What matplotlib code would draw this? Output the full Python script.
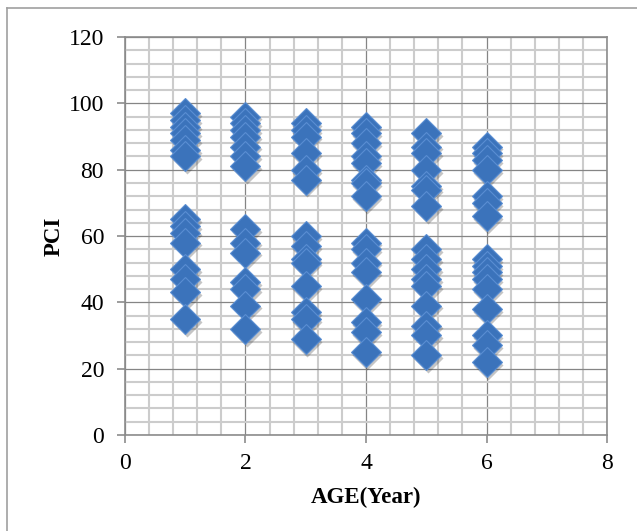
import numpy as np
import matplotlib.pyplot as plt
from matplotlib.ticker import MultipleLocator
from matplotlib.transforms import offset_copy
from matplotlib.lines import Line2D

# PCI readings per pavement age (years)
pci_age1 = [97, 95, 93, 91, 89, 86, 84, 65, 63, 61, 58, 50, 47, 43, 35]
pci_age2 = [96, 94, 92, 90, 87, 84, 81, 62, 58, 55, 46, 44, 39, 32]
pci_age3 = [94, 92, 90, 85, 80, 77, 60, 57, 53, 52, 45, 37, 35, 29]
pci_age4 = [93, 91, 88, 84, 82, 77, 76, 72, 58, 56, 52, 49, 41, 34, 31, 25]
pci_age5 = [91, 87, 85, 80, 75, 74, 69, 56, 53, 50, 47, 45, 39, 33, 30, 24]
pci_age6 = [87, 85, 83, 80, 72, 70, 66, 53, 51, 49, 47, 44, 38, 30, 27, 22]
ages = [1, 2, 3, 4, 5, 6]

series = [pci_age1, pci_age2, pci_age3, pci_age4, pci_age5, pci_age6]
x = np.concatenate([[a] * len(s) for a, s in zip(ages, series)])
y = np.concatenate(series)

plt.rcParams['font.family'] = 'Liberation Serif'

fig = plt.figure(figsize=(6.37, 5.31), dpi=100)
ax = fig.add_axes([0.196, 0.181, 0.757, 0.749])

# soft drop shadow under the diamonds
shadow = offset_copy(ax.transData, fig=fig, x=1.0, y=-2.0, units='points')
ax.plot(x, y, 'D', ms=15, color='#303030', alpha=0.28, mec='none',
        transform=shadow, zorder=3)
ax.plot(x, y, 'D', ms=15, color='#3b73bb', mec='#5a8ed2', mew=0.8,
        zorder=4)

ax.set_xlim(0, 8)
ax.set_ylim(0, 120)
ax.xaxis.set_major_locator(MultipleLocator(2))
ax.xaxis.set_minor_locator(MultipleLocator(0.4))
ax.yaxis.set_major_locator(MultipleLocator(20))
ax.yaxis.set_minor_locator(MultipleLocator(4))

ax.grid(which='minor', color='#cccccc', lw=1.5, zorder=0)
ax.grid(which='major', color='#858585', lw=0.9, zorder=1)
ax.set_axisbelow(True)

for sp in ax.spines.values():
    sp.set_color('#8c8c8c')
    sp.set_linewidth(1.2)
ax.tick_params(which='major', length=6, color='#8c8c8c', width=1.2,
               labelsize=17)
ax.tick_params(axis='y', pad=9)
ax.tick_params(axis='x', pad=7)
ax.tick_params(which='minor', length=0)

ax.set_xlabel('AGE(Year)', fontsize=16.5, fontweight='bold', labelpad=9)
ax.set_ylabel('PCI', fontsize=16.5, fontweight='bold', labelpad=3)

# chart-area border (only left and top edges visible)
fig.add_artist(Line2D([0.011, 0.011], [0, 0.985], transform=fig.transFigure,
                      color='#a0a0a0', lw=1.2))
fig.add_artist(Line2D([0.011, 1.0], [0.985, 0.985], transform=fig.transFigure,
                      color='#a0a0a0', lw=1.2))

fig.savefig('out.png', dpi=100)
